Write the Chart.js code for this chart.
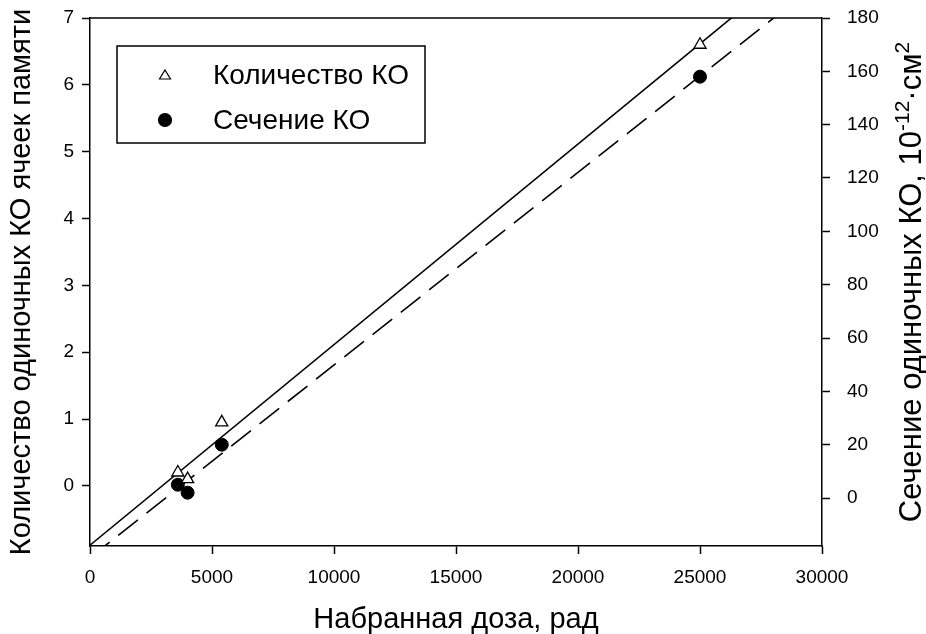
<!DOCTYPE html>
<html>
<head>
<meta charset="utf-8">
<script src="https://cdn.jsdelivr.net/npm/chart.js@4"></script>
<style>
  html, body { margin: 0; padding: 0; background: #fff; }
  #wrap { width: 926px; height: 634px; }
</style>
</head>
<body>
<div id="wrap"><canvas id="chart" width="926" height="634"></canvas></div>
<script>
// данные -------------
const doses = [3600, 4000, 5400, 25000];            // набранная доза, рад
const countKO = [0.2, 0.1, 0.95, 6.6];              // количество КО (левая ось)
const crossKO = [5, 2, 20, 158];                    // сечение КО (правая ось)
const seriesNames = ['Количество КО', 'Сечение КО'];
const xTicks = [0, 5000, 10000, 15000, 20000, 25000, 30000];
const leftTicks = [0, 1, 2, 3, 4, 5, 6, 7];
const rightTicks = [0, 20, 40, 60, 80, 100, 120, 140, 160, 180];

const FONT = "'Liberation Sans', Arial, sans-serif";

// линейная регрессия по точкам
function fit(xs, ys) {
  let n = xs.length, mx = 0, my = 0;
  xs.forEach((v, i) => { mx += v / n; my += ys[i] / n; });
  let sxx = 0, sxy = 0;
  xs.forEach((v, i) => { sxx += (v - mx) * (v - mx); sxy += (v - mx) * (ys[i] - my); });
  const k = sxy / sxx, b = my - k * mx;
  return x => k * x + b;
}
const fitCount = fit(doses, countKO);
const fitCross = fit(doses, crossKO);
const xMin = xTicks[0], xMax = xTicks[xTicks.length - 1];

function pts(ys) { return doses.map((x, i) => ({x: x, y: ys[i]})); }
function linePts(f) { return [{x: xMin, y: f(xMin)}, {x: xMax, y: f(xMax)}]; }

// рамка сверху + легенда + подпись правой оси
const extras = {
  id: 'extras',
  afterDraw(chart) {
    const ctx = chart.ctx, a = chart.chartArea;
    ctx.save();
    ctx.strokeStyle = '#000';
    ctx.lineWidth = 1.5;
    ctx.beginPath();
    ctx.moveTo(a.left, a.top);
    ctx.lineTo(a.right, a.top);
    ctx.stroke();

    // легенда
    ctx.strokeRect(117, 46, 308, 97);
    ctx.font = '28px ' + FONT;
    ctx.textBaseline = 'middle';
    [0, 1].forEach(i => {
      const y = 75 + i * 45;
      ctx.fillStyle = i === 0 ? '#fff' : '#000';
      ctx.strokeStyle = '#000';
      ctx.lineWidth = 1.2;
      ctx.beginPath();
      if (i === 0) {
        ctx.moveTo(165, y - 5); ctx.lineTo(170.5, y + 4); ctx.lineTo(159.5, y + 4); ctx.closePath();
      } else {
        ctx.arc(165, y, 6.5, 0, Math.PI * 2);
      }
      ctx.fill(); ctx.stroke();
      ctx.fillStyle = '#000';
      ctx.fillText(seriesNames[i], 213, y + 1);
    });

    // подпись правой оси (снизу вверх)
    ctx.translate(921, (a.top + a.bottom) / 2);
    ctx.rotate(-Math.PI / 2);
    ctx.textBaseline = 'alphabetic';
    const parts = [
      ['Сечение одиночных КО, 10', 31, 0],
      ['-12', 21, -12],
      ['·см', 31, 0],
      ['2', 21, -12]
    ];
    let total = 0;
    parts.forEach(p => { ctx.font = p[1] + 'px ' + FONT; total += ctx.measureText(p[0]).width; });
    let x = -total / 2;
    parts.forEach(p => {
      ctx.font = p[1] + 'px ' + FONT;
      ctx.fillText(p[0], x, p[2]);
      x += ctx.measureText(p[0]).width;
    });
    ctx.restore();
  }
};

const tickGrid = {
  drawOnChartArea: false,
  drawTicks: true,
  tickLength: 8,
  tickWidth: 1.5,
  color: '#000'
};
const border = { display: true, color: '#000', width: 1.5 };
const tickFont = { family: FONT, size: 19 };
const plain = v => String(v);

new Chart(document.getElementById('chart'), {
  type: 'scatter',
  data: {
    datasets: [
      {
        label: seriesNames[0],
        data: pts(countKO),
        yAxisID: 'y',
        pointStyle: 'triangle',
        pointRadius: 7,
        pointBackgroundColor: '#fff',
        pointBorderColor: '#000',
        pointBorderWidth: 1.3,
        order: 0
      },
      {
        label: seriesNames[1],
        data: pts(crossKO),
        yAxisID: 'y2',
        pointStyle: 'circle',
        pointRadius: 6.5,
        pointBackgroundColor: '#000',
        pointBorderColor: '#000',
        order: 0
      },
      {
        label: 'fit1',
        data: linePts(fitCount),
        yAxisID: 'y',
        showLine: true,
        borderColor: '#000',
        borderWidth: 1.6,
        pointRadius: 0,
        clip: 0,
        order: 1
      },
      {
        label: 'fit2',
        data: linePts(fitCross),
        yAxisID: 'y2',
        showLine: true,
        borderColor: '#000',
        borderWidth: 1.6,
        borderDash: [25, 11],
        pointRadius: 0,
        clip: 0,
        order: 1
      }
    ]
  },
  options: {
    responsive: false,
    animation: false,
    layout: { padding: { top: 18, left: 0, right: 0, bottom: 0 } },
    plugins: {
      legend: { display: false },
      tooltip: { enabled: false }
    },
    scales: {
      x: {
        type: 'linear',
        min: xMin,
        max: xMax,
        afterBuildTicks: s => { s.ticks = xTicks.map(v => ({value: v})); },
        afterFit: s => { s.height = 88; s.paddingLeft = 0; s.paddingRight = 0; },
        grid: tickGrid,
        border: border,
        ticks: { color: '#000', font: tickFont, padding: 12, maxRotation: 0, callback: plain },
        title: {
          display: true,
          text: 'Набранная доза, рад',
          color: '#000',
          font: { family: FONT, size: 29, lineHeight: 1 },
          padding: { top: 0, bottom: 0 }
        }
      },
      y: {
        position: 'left',
        min: -0.9,
        max: 7,
        afterBuildTicks: s => { s.ticks = leftTicks.map(v => ({value: v})); },
        afterFit: s => { s.width = 90; s.paddingTop = 10; s.paddingBottom = 10; },
        grid: tickGrid,
        border: border,
        ticks: { color: '#000', font: tickFont, padding: 8, callback: plain },
        title: {
          display: true,
          text: 'Количество одиночных КО ячеек памяти',
          color: '#000',
          font: { family: FONT, size: 29, lineHeight: 1 },
          padding: { top: 7, bottom: 0 }
        }
      },
      y2: {
        position: 'right',
        min: -18,
        max: 180,
        afterBuildTicks: s => { s.ticks = rightTicks.map(v => ({value: v})); },
        afterFit: s => { s.width = 104; s.paddingTop = 10; s.paddingBottom = 10; },
        grid: tickGrid,
        border: border,
        ticks: { color: '#000', font: tickFont, padding: 17, callback: plain }
      }
    }
  },
  plugins: [extras]
});
</script>
</body>
</html>
